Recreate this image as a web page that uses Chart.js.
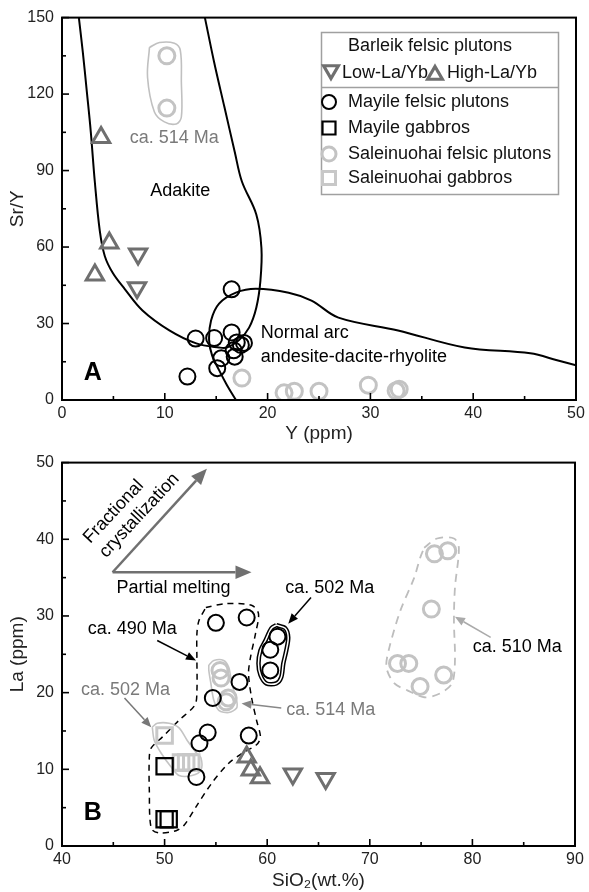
<!DOCTYPE html>
<html><head><meta charset="utf-8">
<script src="https://cdn.jsdelivr.net/npm/chart.js@4.4.1/dist/chart.umd.min.js"></script>
<style>
html,body{margin:0;padding:0;background:#fff;}
#wrap{position:relative;width:589px;height:892px;overflow:hidden;}
#c1{position:absolute;left:0;top:0;}
#c2{position:absolute;left:0;top:445px;}
</style></head><body>
<div id="wrap"><canvas id="c1" width="589" height="445"></canvas><canvas id="c2" width="589" height="447"></canvas></div>
<script>
// ---------- Panel A: Sr/Y vs Y (ppm) ----------
const aBarleikLowY    = [7.4, 7.3];
const aBarleikLowSrY  = [57.3, 44.0];
const aBarleikHighY   = [3.8, 4.6, 3.2];
const aBarleikHighSrY = [103, 61.6, 49.0];
const aMayileFelsicY   = [16.5, 13.0, 14.8, 16.5, 17.0, 17.4, 17.7, 16.7, 15.5, 16.8, 15.1, 12.2];
const aMayileFelsicSrY = [43.4, 24.1, 24.3, 26.5, 22.6, 21.6, 22.4, 19.5, 16.4, 17.0, 12.5, 9.2];
const aSaleFelsicY   = [10.2, 10.2, 17.5, 21.6, 22.6, 25.0, 29.8, 32.5, 32.8];
const aSaleFelsicSrY = [135, 114.5, 8.6, 2.8, 3.4, 3.4, 5.8, 3.6, 4.2];
// field boundaries (panel A)
const adakiteY   = [1.64, 2.03, 2.42, 2.80, 3.19, 3.68, 4.16, 4.93, 6.09, 7.83, 10.44, 13.06, 15.28, 16.05, 17.2, 18.2, 18.9, 19.3, 19.4, 18.9, 17.5, 16.8, 15.8, 14.8, 13.9];
const adakiteSrY = [150, 136.3, 120.8, 105.2, 85.7, 66.2, 56.5, 49.9, 43.6, 35.1, 27.3, 22.2, 20.6, 20.6, 23.4, 28.4, 36.2, 46.7, 59.6, 72.8, 85.7, 97.4, 114.9, 132.5, 150];
const normalArcY   = [16.92, 16.05, 15.28, 14.6, 14.31, 14.5, 15.28, 16.92, 18.86, 22.05, 24.27, 26.89, 32.69, 39.17, 45.55, 48.16, 50.0];
const normalArcSrY = [0, 5.8, 11.7, 17.5, 23.4, 31.2, 37.8, 42.1, 43.6, 42.1, 39.0, 32.3, 27.3, 20.6, 18.3, 15.6, 13.6];
const a514Y   = [8.51, 9.48, 10.93, 11.51, 11.61, 11.61, 11.12, 9.96, 8.99, 8.32, 8.51];
const a514SrY = [138.3, 140.2, 139.9, 137.1, 124.7, 111.0, 108.3, 109.1, 113.0, 126.6, 138.3];
const aXTicks = [0, 10, 20, 30, 40, 50];
const aYTicks = [0, 30, 60, 90, 120, 150];

// ---------- Panel B: La (ppm) vs SiO2 ----------
const bBarleikLowSi   = [62.5, 65.7];
const bBarleikLowLa   = [9.4, 8.8];
const bBarleikHighSi  = [58.0, 58.4, 59.3];
const bBarleikHighLa  = [11.6, 9.9, 8.9];
const bMayileFelsicSi = [55.0, 58.0, 57.3, 54.7, 54.2, 53.4, 58.2, 53.1, 61.0, 60.3, 60.3];
const bMayileFelsicLa = [29.1, 29.8, 21.4, 19.3, 14.8, 13.4, 14.4, 9.0, 27.3, 25.6, 22.9];
const bMayileGabbroSi = [50.0, 50.0, 50.4];
const bMayileGabbroLa = [10.4, 3.5, 3.5];
const bSaleFelsicSi = [55.4, 55.5, 56.2, 56.0, 76.3, 77.6, 76.0, 72.7, 73.8, 74.9, 77.2];
const bSaleFelsicLa = [22.9, 21.9, 19.3, 18.8, 38.1, 38.5, 30.9, 23.8, 23.8, 20.8, 22.3];
const bSaleGabbroSi = [50.0, 51.6, 52.1, 52.6];
const bSaleGabbroLa = [14.4, 10.9, 10.9, 10.9];
// group outlines (panel B)
const b490Si = [54.02, 55.96, 58.47, 59.15, 58.86, 58.37, 58.18, 58.47, 58.96, 59.34, 58.96, 57.70, 56.25, 54.60, 53.06, 51.90, 51.12, 49.48, 48.70, 48.51, 48.51, 48.70, 49.77, 51.41, 52.96, 53.15, 53.15, 53.15, 53.35, 54.02];
const b490La = [31.1, 31.6, 31.4, 30.3, 27.7, 24.6, 22.5, 19.4, 16.4, 14.2, 13.2, 12.2, 10.8, 8.2, 5.1, 2.7, 2.0, 1.7, 2.3, 7.3, 11.6, 12.8, 14.2, 16.4, 18.4, 20.3, 24.2, 27.7, 29.4, 31.1];
const b502Si = [60.89, 61.76, 62.05, 61.86, 61.57, 61.37, 60.89, 59.92, 59.34, 59.15, 59.34, 59.83, 60.41, 60.89];
const b502La = [28.8, 28.4, 27.2, 25.5, 23.8, 22.0, 21.2, 21.2, 22.3, 23.8, 25.5, 26.8, 28.4, 28.8];
const b514Si = [54.31, 54.80, 55.76, 56.25, 56.54, 57.02, 57.02, 56.25, 55.28, 54.80, 54.51, 54.31, 54.31];
const b514La = [23.6, 24.2, 24.2, 23.3, 21.2, 19.0, 18.0, 17.4, 17.7, 19.0, 21.2, 22.9, 23.6];
const b502gSi = [48.80, 49.28, 50.44, 51.41, 52.19, 53.06, 53.54, 53.54, 52.67, 51.41, 50.64, 49.67, 48.99, 48.80];
const b502gLa = [15.5, 16.0, 16.0, 15.4, 13.8, 12.2, 11.5, 9.9, 9.2, 9.2, 10.3, 12.1, 13.8, 15.5];
const b510Si = [75.30, 76.56, 78.20, 78.68, 78.30, 78.20, 78.30, 78.01, 76.85, 75.30, 73.66, 72.40, 71.62, 71.91, 72.98, 74.33, 74.91, 75.30];
const b510La = [38.9, 40.1, 40.1, 38.9, 33.7, 29.4, 24.2, 21.2, 19.9, 19.4, 20.3, 21.2, 23.3, 25.9, 30.7, 35.0, 37.6, 38.9];
const bXTicks = [40, 50, 60, 70, 80, 90];
const bYTicks = [0, 10, 20, 30, 40, 50];

const FONT = "'Liberation Sans', Arial, Helvetica, sans-serif";
const BLACK = '#000', GCIRC = '#c3c3c3', GSQ = '#c8c8c8', TRI = '#6f6f6f';

function pairs(xs, ys) { return xs.map((x, i) => ({ x: x, y: ys[i] })); }
function curve(xs, ys, color, width, dash, tension) {
  return { data: pairs(xs, ys), showLine: true, borderColor: color, borderWidth: width,
    borderDash: dash || [], pointRadius: 0, pointHoverRadius: 0, tension: tension, fill: false,
    backgroundColor: 'transparent' };
}
function pts(xs, ys, style, r, color, lw, rot) {
  return { data: pairs(xs, ys), showLine: false, pointStyle: style, pointRadius: r, pointHoverRadius: r,
    pointBorderColor: color, pointBackgroundColor: 'rgba(0,0,0,0)', pointBorderWidth: lw,
    pointRotation: rot || 0 };
}

const frameTicks = {
  id: 'frameTicks',
  afterDraw(chart) {
    const ctx = chart.ctx, a = chart.chartArea;
    ctx.save();
    ctx.strokeStyle = '#000';
    ctx.lineWidth = 2;
    ctx.strokeRect(a.left, a.top, a.right - a.left, a.bottom - a.top);
    ctx.lineWidth = 1.6;
    const xs = chart.scales.x, ys = chart.scales.y;
    xs.ticks.forEach(t => {
      const p = xs.getPixelForValue(t.value), L = t.label !== '' ? 7 : 4;
      ctx.beginPath(); ctx.moveTo(p, a.bottom); ctx.lineTo(p, a.bottom - L); ctx.stroke();
    });
    ys.ticks.forEach(t => {
      const p = ys.getPixelForValue(t.value), L = t.label !== '' ? 7 : 4;
      ctx.beginPath(); ctx.moveTo(a.left, p); ctx.lineTo(a.left + L, p); ctx.stroke();
    });
    ctx.restore();
  }
};

function arrow(ctx, x1, y1, x2, y2, color, lw, head) {
  const ang = Math.atan2(y2 - y1, x2 - x1), hw = head * 0.42;
  const bx = x2 - head * Math.cos(ang), by = y2 - head * Math.sin(ang);
  ctx.strokeStyle = color; ctx.fillStyle = color; ctx.lineWidth = lw;
  ctx.beginPath(); ctx.moveTo(x1, y1); ctx.lineTo(bx, by); ctx.stroke();
  ctx.beginPath(); ctx.moveTo(x2, y2);
  ctx.lineTo(bx - hw * Math.sin(ang), by + hw * Math.cos(ang));
  ctx.lineTo(bx + hw * Math.sin(ang), by - hw * Math.cos(ang));
  ctx.closePath(); ctx.fill();
}
function sym(ctx, style, x, y, r, color, lw) {
  ctx.save(); ctx.strokeStyle = color; ctx.lineWidth = lw; ctx.beginPath();
  if (style === 'circle') ctx.arc(x, y, r, 0, Math.PI * 2);
  else if (style === 'rect') ctx.rect(x - r, y - r, 2 * r, 2 * r);
  else if (style === 'up') { ctx.moveTo(x, y - r); ctx.lineTo(x + r * 0.866, y + r * 0.5); ctx.lineTo(x - r * 0.866, y + r * 0.5); ctx.closePath(); }
  else if (style === 'down') { ctx.moveTo(x, y + r); ctx.lineTo(x + r * 0.866, y - r * 0.5); ctx.lineTo(x - r * 0.866, y - r * 0.5); ctx.closePath(); }
  ctx.stroke(); ctx.restore();
}
function makeText(list, arrows) {
  return {
    id: 'notes',
    afterDraw(chart) {
      const ctx = chart.ctx, sx = chart.scales.x, sy = chart.scales.y;
      ctx.save();
      arrows.forEach(r => arrow(ctx, sx.getPixelForValue(r[0]), sy.getPixelForValue(r[1]),
        sx.getPixelForValue(r[2]), sy.getPixelForValue(r[3]), r[4], r[5], r[6]));
      list.forEach(t => {
        ctx.save();
        ctx.font = (t.bold ? 'bold ' : '') + (t.size || 18) + 'px ' + FONT;
        ctx.fillStyle = t.color || '#000';
        ctx.textAlign = t.align || 'left';
        ctx.textBaseline = 'middle';
        ctx.translate(sx.getPixelForValue(t.x), sy.getPixelForValue(t.y));
        if (t.rot) ctx.rotate(t.rot * Math.PI / 180);
        ctx.fillText(t.t, 0, 0);
        ctx.restore();
      });
      ctx.restore();
    }
  };
}
const legendA = {
  id: 'legendA',
  afterDraw(chart) {
    const ctx = chart.ctx;
    ctx.save();
    ctx.fillStyle = '#fff'; ctx.fillRect(321, 32, 237, 162);
    ctx.strokeStyle = '#a0a0a0'; ctx.lineWidth = 1.5;
    ctx.strokeRect(321.5, 32.5, 237, 162);
    ctx.beginPath(); ctx.moveTo(321.5, 87.5); ctx.lineTo(558.5, 87.5); ctx.stroke();
    ctx.font = '18px ' + FONT; ctx.fillStyle = '#111'; ctx.textBaseline = 'middle'; ctx.textAlign = 'left';
    ctx.fillText('Barleik felsic plutons', 348, 46);
    sym(ctx, 'down', 331, 70, 8.5, TRI, 3.2);
    ctx.fillText('Low-La/Yb', 342, 73);
    sym(ctx, 'up', 435, 75, 8.5, TRI, 3.2);
    ctx.fillText('High-La/Yb', 447, 73);
    sym(ctx, 'circle', 329, 102, 7, BLACK, 2);
    ctx.fillText('Mayile felsic plutons', 348, 102);
    sym(ctx, 'rect', 329, 128, 6.5, BLACK, 2.2);
    ctx.fillText('Mayile gabbros', 348, 128);
    sym(ctx, 'circle', 329, 154, 7, GCIRC, 3);
    ctx.fillText('Saleinuohai felsic plutons', 348, 154);
    sym(ctx, 'rect', 329, 178, 6.5, GSQ, 3);
    ctx.fillText('Saleinuohai gabbros', 348, 178);
    ctx.restore();
  }
};

function axisX(min, max, majors, title, h) {
  return { type: 'linear', min: min, max: max, afterFit: s => { s.height = h; },
    grid: { display: false, drawTicks: false }, border: { display: false },
    ticks: { stepSize: 5, autoSkip: false, maxRotation: 0, padding: 4, color: '#222',
      font: { size: 16, family: FONT }, callback: v => majors.includes(v) ? String(v) : '' },
    title: { display: true, text: title, color: '#222', font: { size: 19, family: FONT, lineHeight: 1.2 },
      padding: { top: 0, bottom: 0 } } };
}
function axisY(min, max, step, majors, title) {
  return { type: 'linear', min: min, max: max, afterFit: s => { s.width = 62; },
    grid: { display: false, drawTicks: false }, border: { display: false },
    ticks: { stepSize: step, autoSkip: false, padding: 8, color: '#222',
      font: { size: 16, family: FONT }, callback: v => majors.includes(v) ? String(v) : '' },
    title: { display: true, text: title, color: '#222', font: { size: 19, family: FONT, lineHeight: 1.2 },
      padding: { top: 6, bottom: 0 } } };
}

// Chart.js paints the first dataset on top, so markers come first and outlines last.
// ---------- Chart A ----------
new Chart(document.getElementById('c1'), {
  type: 'scatter',
  data: { datasets: [
    pts(aBarleikLowY, aBarleikLowSrY, 'triangle', 10, TRI, 3, 180),
    pts(aBarleikHighY, aBarleikHighSrY, 'triangle', 10, TRI, 3),
    pts(aMayileFelsicY, aMayileFelsicSrY, 'circle', 8, BLACK, 2),
    pts(aSaleFelsicY, aSaleFelsicSrY, 'circle', 8, GCIRC, 3),
    curve(a514Y, a514SrY, '#c0c0c0', 1.6, [], 0.35),
    curve(normalArcY, normalArcSrY, BLACK, 2, [], 0.35),
    curve(adakiteY, adakiteSrY, BLACK, 2, [], 0.35)
  ] },
  options: {
    responsive: false, animation: false, events: [],
    layout: { padding: { top: 15, right: 10, left: 0, bottom: 0 } },
    plugins: { legend: { display: false }, tooltip: { enabled: false } },
    scales: { x: axisX(0, 50, aXTicks, 'Y (ppm)', 45), y: axisY(0, 150, 15, aYTicks, 'Sr/Y') }
  },
  plugins: [frameTicks, legendA, makeText([
    { t: 'ca. 514 Ma', x: 6.58, y: 102.8, color: '#7a7a7a' },
    { t: 'Adakite', x: 11.5, y: 81.8, align: 'center' },
    { t: 'Normal arc', x: 19.34, y: 26.1 },
    { t: 'andesite-dacite-rhyolite', x: 19.34, y: 16.8 },
    { t: 'A', x: 3.0, y: 10.5, align: 'center', bold: true, size: 25 }
  ], [])]
});

// ---------- Chart B ----------
new Chart(document.getElementById('c2'), {
  type: 'scatter',
  data: { datasets: [
    pts(bBarleikLowSi, bBarleikLowLa, 'triangle', 10, TRI, 3, 180),
    pts(bBarleikHighSi, bBarleikHighLa, 'triangle', 10, TRI, 3),
    pts(bMayileFelsicSi, bMayileFelsicLa, 'circle', 8, BLACK, 2),
    pts(bMayileGabbroSi, bMayileGabbroLa, 'rect', 11.5, BLACK, 2.2),
    pts(bSaleFelsicSi, bSaleFelsicLa, 'circle', 8, GCIRC, 3),
    pts(bSaleGabbroSi, bSaleGabbroLa, 'rect', 11, GSQ, 3),
    curve(b502Si, b502La, '#fff', 1.5, [], 0.3),
    curve(b502Si, b502La, BLACK, 4.5, [], 0.3),
    curve(b514Si, b514La, '#c4c4c4', 1.6, [], 0.3),
    curve(b502gSi, b502gLa, '#c4c4c4', 1.6, [], 0.3),
    curve(b510Si, b510La, '#bdbdbd', 1.8, [8, 6], 0.3),
    curve(b490Si, b490La, BLACK, 1.5, [6, 5], 0.3)
  ] },
  options: {
    responsive: false, animation: false, events: [],
    layout: { padding: { top: 17, right: 10, left: 0, bottom: 0 } },
    plugins: { legend: { display: false }, tooltip: { enabled: false } },
    scales: { x: axisX(40, 90, bXTicks, 'SiO₂(wt.%)', 46), y: axisY(0, 50, 5, bYTicks, 'La (ppm)') }
  },
  plugins: [frameTicks, makeText([
    { t: 'Fractional', x: 45.03, y: 43.6, align: 'center', rot: -47 },
    { t: 'crystallization', x: 47.54, y: 43.1, align: 'center', rot: -47 },
    { t: 'Partial melting', x: 45.32, y: 33.7 },
    { t: 'ca. 490 Ma', x: 42.51, y: 28.3 },
    { t: 'ca. 502 Ma', x: 61.76, y: 33.6 },
    { t: 'ca. 502 Ma', x: 41.84, y: 20.4, color: '#7a7a7a' },
    { t: 'ca. 514 Ma', x: 61.86, y: 17.7, color: '#7a7a7a' },
    { t: 'ca. 510 Ma', x: 80.04, y: 25.9 },
    { t: 'B', x: 43.0, y: 4.3, align: 'center', bold: true, size: 25 }
  ], [
    [44.93, 35.7, 54.12, 49.2, '#707070', 2.5, 16],
    [44.93, 35.7, 58.47, 35.7, '#707070', 2.5, 16],
    [49.28, 26.8, 53.06, 24.2, '#000', 1.5, 10],
    [64.27, 32.4, 62.05, 29.0, '#000', 1.5, 10],
    [46.09, 19.3, 48.70, 15.5, '#777', 1.5, 10],
    [61.37, 18.0, 57.50, 18.6, '#888', 1.5, 10],
    [81.78, 27.2, 78.30, 29.9, '#aaa', 1.5, 10]
  ])]
});
</script>
</body></html>
